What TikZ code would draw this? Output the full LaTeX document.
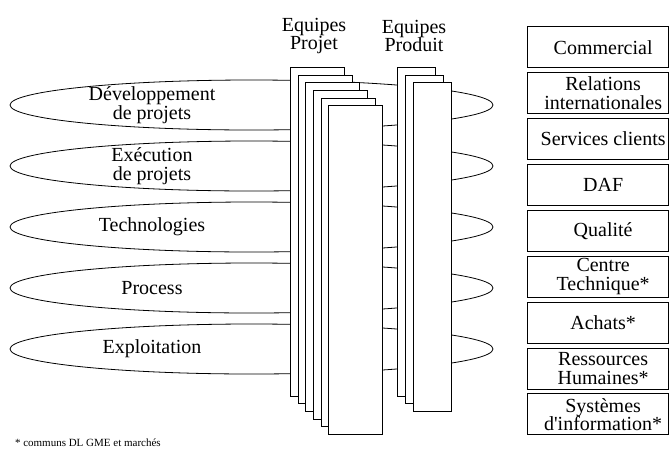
\documentclass[tikz,border=0pt]{standalone}
\usepackage{fontspec}
\setmainfont{Liberation Serif}
\usetikzlibrary{shapes.geometric}
\begin{document}
\begin{tikzpicture}[x=1pt,y=-1pt,
  every node/.style={inner sep=0pt, outer sep=0pt},
  lbl/.style={font=\fontsize{20}{18.5}\selectfont, align=center},
  note/.style={font=\fontsize{11}{12}\selectfont, anchor=base west},
  activity/.style={draw, ellipse, line width=0.8pt, minimum width=483pt, minimum height=50pt},
  card/.style={draw, fill=white, line width=0.9pt, anchor=north west, minimum height=328.7pt},
  projcard/.style={card, minimum width=54pt},
  prodcard/.style={card, minimum width=38pt},
  service/.style={draw, line width=0.9pt, anchor=north west, minimum width=140.7pt, minimum height=41pt},
]
\useasboundingbox (0,0) rectangle (669,448);

% activity domains, partly hidden by the team cards
\foreach \k/\yy in {1/105,2/166,3/227,4/288,5/349}
  \node[activity] (d\k) at (251.5,\yy) {};
\node[lbl] (d1t) at (152,105) {Développement\\de projets};
\node[lbl] (d2t) at (152,166) {Exécution\\de projets};
\node[lbl] (d3t) at (152,227) {Technologies};
\node[lbl] (d4t) at (152,288) {Process};
\node[lbl] (d5t) at (152,349) {Exploitation};

% project teams and product teams
\foreach \i in {0,...,5}
  \node[projcard] (pj\i) at ({290.3+7.7*\i},{67.3+7.7*\i}) {};
\foreach \i in {0,...,2}
  \node[prodcard] (pd\i) at ({397.7+7.65*\i},{67.3+7.7*\i}) {};
\node[lbl] (hpj) at (314,36) {Equipes\\Projet};
\node[lbl] (hpd) at (414,36) {Equipes\\Produit};

% support services
\foreach \k/\txt [count=\n from 0] in {
    1/Commercial,
    2/{Relations\\internationales},
    3/Services clients,
    4/DAF,
    5/Qualité,
    6/{Centre\\Technique*},
    7/Achats*,
    8/{Ressources\\Humaines*},
    9/{Systèmes\\d\textquotesingle information*}}{
  \node[service] (s\k) at (527.3,{26.7+45.9*\n}) {};
  \node[lbl] (s\k t) at ([xshift=5.5pt]s\k.center) {\txt};
}

\node[note] (fn) at (15,446.5) {* communs DL GME et marchés};
\end{tikzpicture}
\end{document}
